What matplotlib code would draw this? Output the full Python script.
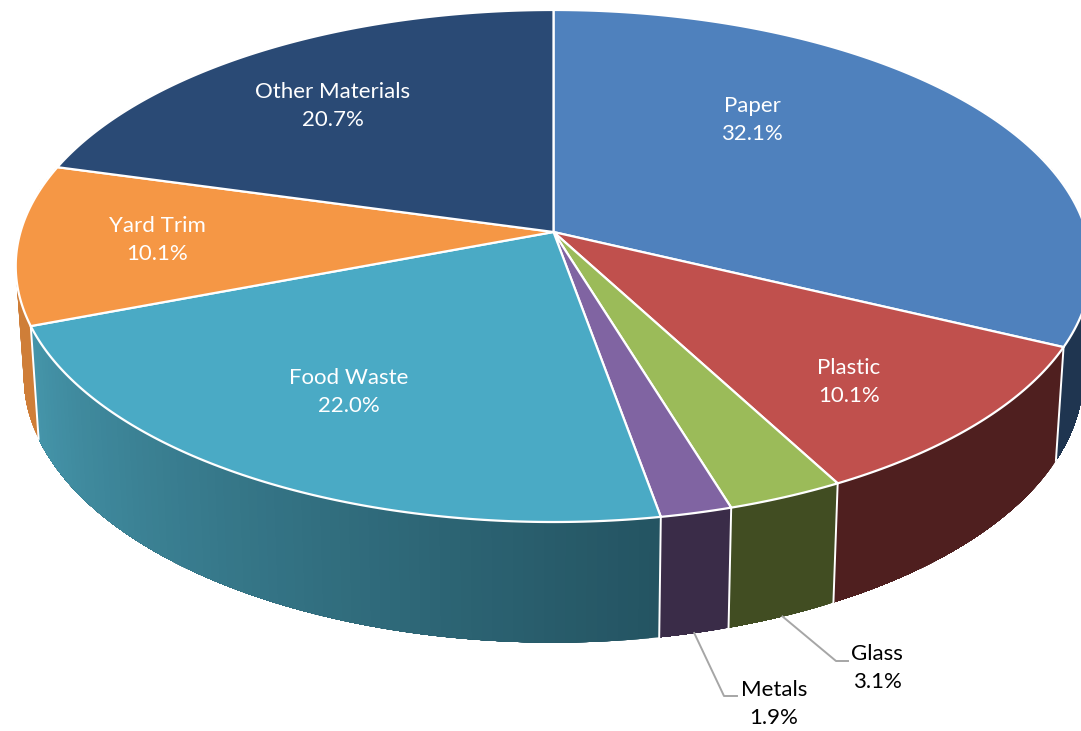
import numpy as np
import matplotlib
matplotlib.use('Agg')
import matplotlib.pyplot as plt
from matplotlib.patches import Polygon
from matplotlib.collections import PolyCollection
from matplotlib.colors import to_rgb

# Slices, clockwise from twelve o'clock
categories = ['Paper', 'Plastic', 'Glass', 'Metals', 'Food Waste', 'Yard Trim', 'Other Materials']
shares = [32.1, 10.1, 3.1, 1.9, 22.0, 10.1, 20.7]
top_colors = ['#4f81bd', '#c0504d', '#9bbb59', '#8064a2', '#4aaac5', '#f59745', '#2a4a75']
# Wall colours at the start and at the end of each slice
wall_start = ['#1f3550', '#4f1f1f', '#414d22', '#3a2c48', '#245462', '#cf7e38', '#1f3550']
wall_end = ['#1f3550', '#4f1f1f', '#414d22', '#3a2c48', '#4595aa', '#cf7e38', '#1f3550']

label_x = [752, 849, 877, 774, 349, 157, 333]
label_y = [120, 382, 668, 704, 392, 240, 106]
label_colors = ['white', 'white', 'black', 'black', 'white', 'white', 'white']
leader_slices = {'Glass': [(836, 661), (848, 661)], 'Metals': [(724, 696), (737, 696)]}

# Perspective of the pie, in pixels
cx, cy = 553.5, 232
a, b, k = 533.0, 251.5, 0.1328
wall_sx, wall_sy, wall_dy = 0.985, 1.04, 109


def top_point(theta):
    u, v = np.sin(theta), np.cos(theta)
    w = 1 + k * v
    return a * u / w, -b * v / w


def rim(theta):
    x, y = top_point(theta)
    return cx + x, cy + y


def floor(theta):
    x, y = top_point(theta)
    return cx + wall_sx * x, cy + wall_sy * y + wall_dy


plt.rcParams['font.family'] = ['Lato', 'DejaVu Sans']
fig = plt.figure(figsize=(10.81, 7.31), dpi=100)
ax = fig.add_axes([0, 0, 1, 1])
ax.set_xlim(0, 1081)
ax.set_ylim(731, 0)
ax.axis('off')

edges = 2 * np.pi * np.concatenate([[0], np.cumsum(shares)]) / 100

# Walls first, the top covers what is behind
n_steps = 80
for i in range(len(shares)):
    thetas = np.linspace(edges[i], edges[i + 1], n_steps + 1)
    xt, yt = rim(thetas)
    xb, yb = floor(thetas)
    c0, c1 = np.array(to_rgb(wall_start[i])), np.array(to_rgb(wall_end[i]))
    quads, cols = [], []
    # each band runs to the slice end, the next one paints over it, so no seams show
    for j in range(n_steps):
        quads.append(list(zip(xt[j:], yt[j:])) + list(zip(xb[j:][::-1], yb[j:][::-1])))
        cols.append(c0 + (c1 - c0) * j / (n_steps - 1))
    ax.add_collection(PolyCollection(quads, facecolors=cols, edgecolors='none', zorder=1))

# White seams between the walls
for i in range(1, len(shares)):
    x0, y0 = rim(edges[i])
    x1, y1 = floor(edges[i])
    if y1 > cy + 190:
        ax.plot([x0, x1], [y0, y1], color='white', lw=1.4, zorder=2)

# Top face
for i in range(len(shares)):
    thetas = np.linspace(edges[i], edges[i + 1], 120)
    xt, yt = rim(thetas)
    pts = [(cx, cy)] + list(zip(xt, yt))
    ax.add_patch(Polygon(pts, closed=True, facecolor=top_colors[i], edgecolor='white',
                         lw=1.6, joinstyle='round', zorder=3))

# Leader lines for the thin slices
for name, bend in leader_slices.items():
    i = categories.index(name)
    xs, ys = floor((edges[i] + edges[i + 1]) / 2)
    ax.plot([xs, bend[0][0], bend[1][0]], [ys, bend[0][1], bend[1][1]], color='#a6a6a6', lw=1.4, zorder=2)

for i, name in enumerate(categories):
    ax.text(label_x[i], label_y[i], '%s\n%.1f%%' % (name, shares[i]), color=label_colors[i],
            ha='center', va='center', fontsize=16, linespacing=1.55, zorder=4)

fig.savefig('out.png', dpi=100)
